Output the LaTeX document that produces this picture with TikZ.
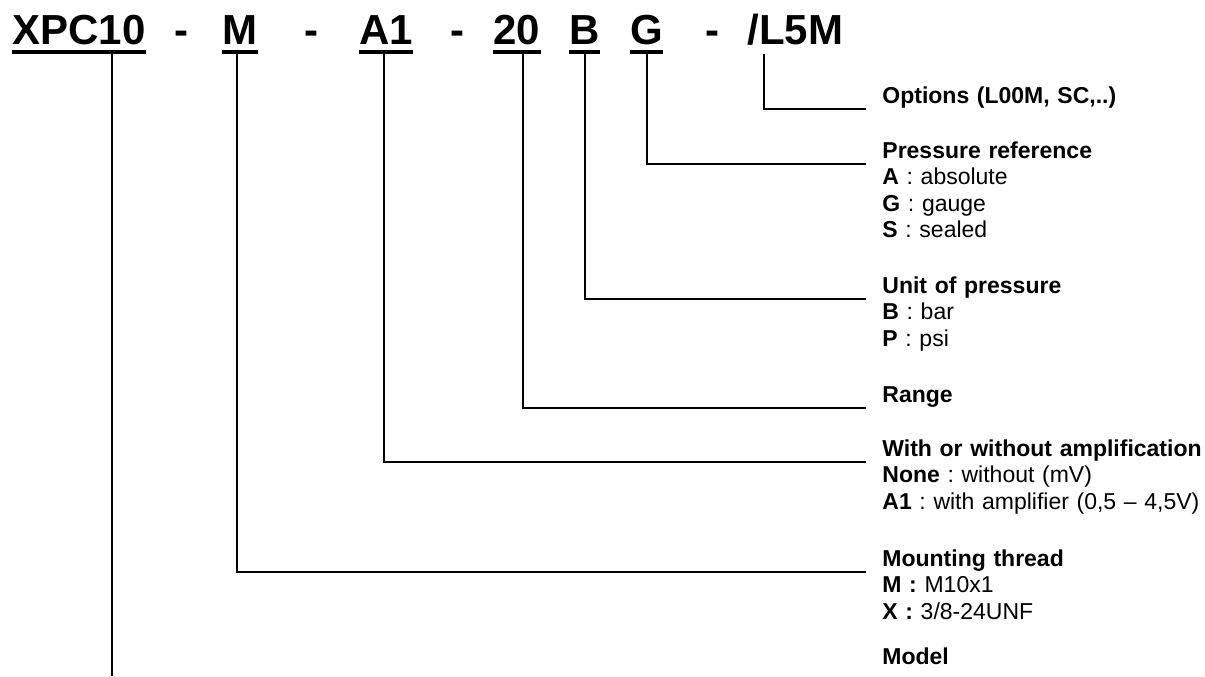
\documentclass[tikz,border=0pt]{standalone}
\usepackage{fontspec}
\setmainfont{Liberation Sans}
\usetikzlibrary{positioning}

\begin{document}
\begin{tikzpicture}[x=0.5pt, y=-0.5pt,
		codenode/.style={anchor=base west, inner sep=0pt, font=\fontsize{21}{25}\selectfont\bfseries},
		descnode/.style={anchor=base west, inner sep=0pt, text width=170pt, align=left, font=\fontsize{11.5}{13.3}\selectfont\frenchspacing},
		lead/.style={line width=1pt},
		uline/.style={line width=2pt},
	]
	\useasboundingbox (0,0) rectangle (1205,676);

	%Code
	\node[codenode] (xpc)	at (12,44)	{XPC10};
	\node[codenode] (h1)	at (174,44)	{-};
	\node[codenode] (thr)	at (222,44)	{M};
	\node[codenode] (h2)	at (304,44)	{-};
	\node[codenode] (amp)	at (359,44)	{A1};
	\node[codenode] (h3)	at (450,44)	{-};
	\node[codenode] (rng)	at (493,44)	{20};
	\node[codenode] (unit)	at (569,44)	{B};
	\node[codenode] (ref)	at (630,44)	{G};
	\node[codenode] (h4)	at (705,44)	{-};
	\node[codenode] (opts)	at (747,44)	{/L5M};

	%Underlines
	\foreach \n in {xpc,thr,amp,rng,unit,ref}
		\draw[uline] ([yshift=-3.75pt]\n.base west) -- ([yshift=-3.75pt]\n.base east);

	%Descriptions
	\node[descnode] (dopt)	at (882,103)	{\textbf{Options (L00M, SC,..)}};
	\node[descnode] (dref)	at (882,158)	{\textbf{Pressure reference}\\\textbf{A} : absolute\\\textbf{G} : gauge\\\textbf{S} : sealed};
	\node[descnode] (dunit)	at (882,293)	{\textbf{Unit of pressure}\\\textbf{B} : bar\\\textbf{P} : psi};
	\node[descnode] (drng)	at (882,402)	{\textbf{Range}};
	\node[descnode] (damp)	at (882,456)	{\textbf{With or without amplification}\\\textbf{None} : without (mV)\\\textbf{A1} : with amplifier (0,5 -- 4,5V)};
	\node[descnode] (dthr)	at (882,566)	{\textbf{Mounting thread}\\\textbf{M :} M10x1\\\textbf{X :} 3/8-24UNF};
	\node[descnode] (dxpc)	at (882,664)	{\textbf{Model}};

	%Drop points
	\coordinate (xpc-d)		at (112,53);
	\coordinate (thr-d)		at (237,53);
	\coordinate (amp-d)		at (384,53);
	\coordinate (rng-d)		at (523,53);
	\coordinate (unit-d)	at (585,53);
	\coordinate (ref-d)		at (647,53);
	\coordinate (opts-d)	at (764,54);
	\coordinate (xpc-end)	at (112,676);

	%Lines
	\draw[lead] (opts-d) |- ([shift={(-8pt,-3pt)}]dopt.base west);
	\draw[lead] (ref-d)  |- ([shift={(-8pt,-3pt)}]dref.base west);
	\draw[lead] (unit-d) |- ([shift={(-8pt,-3pt)}]dunit.base west);
	\draw[lead] (rng-d)  |- ([shift={(-8pt,-3pt)}]drng.base west);
	\draw[lead] (amp-d)  |- ([shift={(-8pt,-3pt)}]damp.base west);
	\draw[lead] (thr-d)  |- ([shift={(-8pt,-3pt)}]dthr.base west);
	\draw[lead] (xpc-d) -- (xpc-end);

\end{tikzpicture}
\end{document}
